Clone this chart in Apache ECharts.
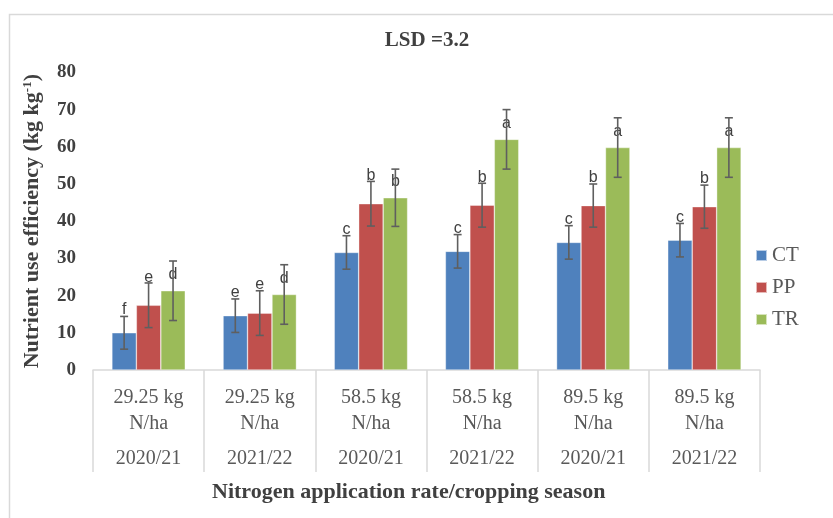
<!DOCTYPE html>
<html>
<head>
<meta charset="utf-8">
<script src="https://cdn.jsdelivr.net/npm/echarts@6/dist/echarts.min.js"></script>
<style>
  html, body { margin: 0; padding: 0; background: #fff; }
  #chart { width: 833px; height: 518px; }
</style>
</head>
<body>
<div id="chart"></div>
<script>
// Nitrogen rates and cropping seasons along the x axis
const rates = ['29.25 kg', '29.25 kg', '58.5 kg', '58.5 kg', '89.5 kg', '89.5 kg'];
const units = ['N/ha', 'N/ha', 'N/ha', 'N/ha', 'N/ha', 'N/ha'];
const seasons = ['2020/21', '2021/22', '2020/21', '2021/22', '2020/21', '2021/22'];

// Nutrient use efficiency (kg kg-1) per tillage treatment
const seriesNames = ['CT', 'PP', 'TR'];
const ctValues = [10.0, 14.6, 31.6, 31.9, 34.3, 34.9];
const ppValues = [17.4, 15.3, 44.7, 44.3, 44.2, 43.9];
const trValues = [21.3, 20.3, 46.3, 62.0, 59.8, 59.8];

// Error bar half-widths
const ctErrors = [4.4, 4.5, 4.5, 4.5, 4.5, 4.5];
const ppErrors = [6.0, 6.0, 6.0, 5.9, 5.8, 5.8];
const trErrors = [8.0, 8.0, 7.7, 8.0, 8.0, 8.0];

// Mean separation letters
const ctLetters = ['f', 'e', 'c', 'c', 'c', 'c'];
const ppLetters = ['e', 'e', 'b', 'b', 'b', 'b'];
const trLetters = ['d', 'd', 'b', 'a', 'a', 'a'];

const yTicks = [0, 10, 20, 30, 40, 50, 60, 70, 80];

const colors = ['#4F81BD', '#C0504D', '#9BBB59'];
const values = [ctValues, ppValues, trValues];
const errors = [ctErrors, ppErrors, trErrors];
const letters = [ctLetters, ppLetters, trLetters];
const labelDistance = [15, 20, 8];
const CAT_GAP = 0.34;

const serif = '"Liberation Serif", "Times New Roman", serif';
const sans = '"Liberation Sans", Arial, sans-serif';

const categories = rates.map((r, i) => r + '|' + units[i] + '|' + seasons[i]);

const barSeries = seriesNames.map((name, s) => ({
  name: name,
  type: 'bar',
  data: values[s],
  barGap: '0%',
  barCategoryGap: (CAT_GAP * 100) + '%',
  itemStyle: { color: colors[s], borderColor: 'rgba(255,255,255,0.6)', borderWidth: 0.6 },
  label: {
    show: true,
    position: 'top',
    distance: labelDistance[s],
    formatter: p => letters[s][p.dataIndex],
    fontFamily: sans,
    fontSize: 16,
    color: '#404040'
  },
  z: 2
}));

const errorSeries = seriesNames.map((name, s) => ({
  type: 'custom',
  name: name + ' error',
  data: values[s].map((v, i) => [i, v, errors[s][i]]),
  z: 5,
  silent: true,
  renderItem: function (params, api) {
    const idx = api.value(0);
    const v = api.value(1);
    const e = api.value(2);
    const band = api.size([1, 0])[0];
    const barW = band * (1 - CAT_GAP) / 3;
    const center = api.coord([idx, v]);
    const x = center[0] + (s - 1) * barW;
    const yTop = api.coord([idx, v + e])[1];
    const yBot = api.coord([idx, v - e])[1];
    const cap = 4;
    const style = { stroke: '#5f5f5f', lineWidth: 1.6 };
    return {
      type: 'group',
      children: [
        { type: 'line', shape: { x1: x, y1: yTop, x2: x, y2: yBot }, style: style },
        { type: 'line', shape: { x1: x - cap, y1: yTop, x2: x + cap, y2: yTop }, style: style },
        { type: 'line', shape: { x1: x - cap, y1: yBot, x2: x + cap, y2: yBot }, style: style }
      ]
    };
  }
}));

const chart = echarts.init(document.getElementById('chart'));
chart.setOption({
  animation: false,
  backgroundColor: '#fff',
  title: {
    text: 'LSD =3.2',
    left: 422,
    top: 25,
    textAlign: 'center',
    textStyle: { fontFamily: serif, fontSize: 21, fontWeight: 'bold', color: '#404040' }
  },
  legend: {
    data: seriesNames,
    orient: 'vertical',
    left: 750,
    top: 240,
    itemWidth: 11,
    itemHeight: 11,
    itemGap: 11,
    icon: 'rect',
    textStyle: { fontFamily: serif, fontSize: 21, color: '#595959' }
  },
  grid: { left: 93, right: 73, top: 72.4, bottom: 148 },
  xAxis: {
    type: 'category',
    data: categories,
    axisLine: { show: true, lineStyle: { color: '#d9d9d9', width: 1.5 } },
    axisTick: { show: true, length: 102, lineStyle: { color: '#d9d9d9', width: 1.5 } },
    axisLabel: {
      margin: 15,
      interval: 0,
      formatter: v => {
        const p = v.split('|');
        return '{a|' + p[0] + '}\n{a|' + p[1] + '}\n{b|' + p[2] + '}';
      },
      rich: {
        a: { fontFamily: serif, fontSize: 20, color: '#595959', lineHeight: 26 },
        b: { fontFamily: serif, fontSize: 20, color: '#595959', lineHeight: 44 }
      }
    }
  },
  yAxis: {
    type: 'value',
    min: yTicks[0],
    max: yTicks[yTicks.length - 1],
    interval: 10,
    splitLine: { show: false },
    axisLine: { show: false },
    axisTick: { show: false },
    axisLabel: {
      margin: 17,
      fontFamily: serif,
      fontSize: 19,
      fontWeight: 'bold',
      color: '#404040'
    },
    name: '{n|Nutrient use efficiency (kg kg}{s|-1}{n|)}',
    nameLocation: 'middle',
    nameGap: 50,
    nameRotate: 90,
    nameTextStyle: {
      rich: {
        n: { fontFamily: serif, fontSize: 22, fontWeight: 'bold', color: '#404040' },
        s: { fontFamily: serif, fontSize: 13, fontWeight: 'bold', color: '#404040', verticalAlign: 'top', padding: [0, 0, 9, 0] }
      }
    }
  },
  graphic: [
    {
      type: 'rect',
      shape: { x: 9.5, y: 14.5, width: 900, height: 600 },
      style: { fill: 'none', stroke: '#d9d9d9', lineWidth: 1.5 },
      silent: true,
      z: -10
    },
    {
      type: 'text',
      left: 212,
      top: 481,
      style: {
        text: 'Nitrogen application rate/cropping season',
        fontFamily: serif,
        fontSize: 22,
        fontWeight: 'bold',
        fill: '#404040'
      }
    }
  ],
  series: barSeries.concat(errorSeries)
});
</script>
</body>
</html>
